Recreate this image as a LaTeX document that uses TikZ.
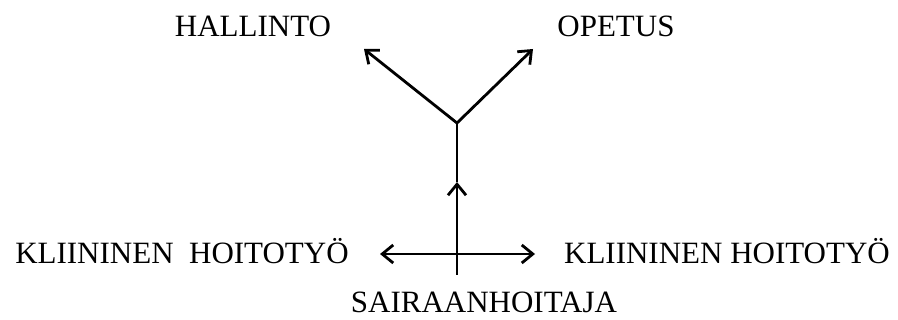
\documentclass[tikz,border=0pt]{standalone}
\usepackage{fontspec}
\setmainfont{Liberation Serif}
\newfontfamily\timesf{Liberation Serif}
\usetikzlibrary{arrows.meta}
\begin{document}
\begin{tikzpicture}[x=1pt,y=-1pt,
  lbl/.style={anchor=base,inner sep=0pt,font=\timesf\fontsize{31}{37}\selectfont},
  conn/.style={line width=2.8pt,line cap=butt},
  barb/.style={Straight Barb[length=11pt,width=18pt,line width=2.8pt]},
  tip/.style={conn,-{Straight Barb[length=11pt,width=18pt,line width=2.8pt]}},
  bitip/.style={conn,{Straight Barb[length=11pt,width=18pt,line width=2.8pt]}-{Straight Barb[length=11pt,width=18pt,line width=2.8pt]}}]
  \useasboundingbox (0,0) rectangle (898,320);
  % labels
  \node[lbl] (hal) at (253,37) {HALLINTO};
  \node[lbl] (ope) at (616,37) {OPETUS};
  \node[lbl] (kl) at (182,264) {KLIININEN\hspace{0.5em}HOITOTYÖ};
  \node[lbl] (kr) at (727,264) {KLIININEN HOITOTYÖ};
  \node[lbl] (sai) at (484,313) {SAIRAANHOITAJA};
  % branching points of the connectors
  \coordinate (j) at (457,123);
  \coordinate (tl) at (364,49);
  \coordinate (tr) at (533,49);
  \coordinate (m) at (457,182);
  \coordinate (b) at (457,275);
  \coordinate (hl) at (380,254);
  \coordinate (hr) at (535,254);
  % connectors
  \draw[tip] (j) -- (tl);
  \draw[tip] (j) -- (tr);
  \draw[tip] (b) -- (m);
  \draw[conn] (m) -- (j);
  \draw[bitip] (hl) -- (hr);
\end{tikzpicture}
\end{document}
